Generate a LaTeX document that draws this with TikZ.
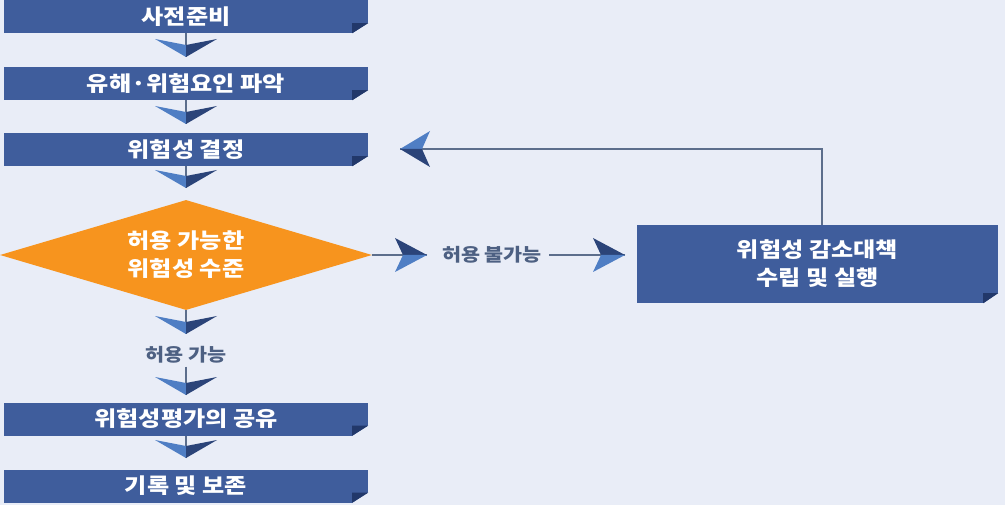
\documentclass[tikz,border=0pt]{standalone}
\usepackage{fontspec}
\setmainfont{Noto Sans CJK KR}[FakeStretch=1.15]
\usetikzlibrary{shapes.geometric}
\definecolor{bgc}{HTML}{E9EDF7}
\definecolor{boxc}{HTML}{3F5D9C}
\definecolor{foldc}{HTML}{22386A}
\definecolor{orangec}{HTML}{F7941E}
\definecolor{chevl}{HTML}{4F7EC4}
\definecolor{chevd}{HTML}{2B4479}
\definecolor{linec}{HTML}{5C6E8C}
\definecolor{labc}{HTML}{4D6082}
\tikzset{
  stepbox/.style={rectangle, fill=boxc, text=white, font=\fontsize{21}{24}\selectfont\bfseries,
    minimum width=364pt, minimum height=33pt, inner sep=0pt, align=center},
  decision/.style={diamond, aspect=3.38, fill=orangec, text=white, inner sep=0pt,
    minimum width=372pt, minimum height=110pt, align=center,
    font=\fontsize{21}{28}\selectfont\bfseries},
  lab/.style={text=labc, font=\fontsize{18}{20}\selectfont\bfseries, inner ysep=3pt, inner xsep=7pt},
  conn/.style={draw=linec, line width=1.2pt},
  chevdown/.pic={
    \fill[chevl] (-31,-18) -- (0,-12) -- (0,0) -- cycle;
    \fill[chevd] (0,-12) -- (31,-18) -- (0,0) -- cycle;
  },
  chevright/.pic={
    \fill[chevd] (-32,-17) -- (-24,0) -- (0,0) -- cycle;
    \fill[chevl] (-24,0) -- (-32,17) -- (0,0) -- cycle;
  },
  chevleft/.pic={
    \fill[chevl] (30,-18) -- (22,0) -- (0,0) -- cycle;
    \fill[chevd] (22,0) -- (30,18) -- (0,0) -- cycle;
  },
}
\begin{document}
\begin{tikzpicture}[x=1pt,y=-1pt]
\fill[bgc] (0,0) rectangle (1005,505);
\useasboundingbox (0,0) rectangle (1005,505);

% nodes
\node[stepbox] (b1) at (186,16.5) {사전준비};
\node[stepbox] (b2) at (186,83.5) {유해·위험요인 파악};
\node[stepbox] (b3) at (186,149.5) {위험성 결정};
\node[decision] (d) at (186,255) {허용 가능한\\위험성 수준};
\node[lab] (l1) at (186,355) {허용 가능};
\node[stepbox] (b4) at (186,419) {위험성평가의 공유};
\node[stepbox] (b5) at (186,486) {기록 및 보존};
\node[lab] (l2) at (492,255) {허용 불가능};
\node[rectangle, fill=boxc, text=white, font=\fontsize{21}{28}\selectfont\bfseries,
  minimum width=361pt, minimum height=78pt, inner sep=0pt, align=center]
  (r) at (817.5,264) {위험성 감소대책\\수립 및 실행};

% folded corners
\foreach \n in {b1,b2,b3,b4,b5}{
  \fill[bgc] (\n.south east) ++(1,1) -- ++(-18,0) -- ++(18,-12) -- cycle;
  \fill[foldc] (\n.south east) ++(-16,0) -- ++(0,-10) -- ++(16,0) -- cycle;
}
\fill[bgc] (r.south east) ++(1,1) -- ++(-17,0) -- ++(17,-12) -- cycle;
\fill[foldc] (r.south east) ++(-15,0) -- ++(0,-10) -- ++(15,0) -- cycle;

% arrow tip coordinates
\coordinate (t1) at (186,57);
\coordinate (t2) at (186,124);
\coordinate (t3) at (186,188);
\coordinate (t4) at (186,334);
\coordinate (t5) at (186,395);
\coordinate (t6) at (186,458);
\coordinate (t7) at (427,255);
\coordinate (t8) at (625,255);
\coordinate (t9) at (400,149);

% connectors
\draw[conn] (b1.south) -- (t1);
\draw[conn] (b2.south) -- (t2);
\draw[conn] (b3.south) -- (t3);
\draw[conn] (d.south) -- (t4);
\draw[conn] (l1.south) -- (t5);
\draw[conn] (b4.south) -- (t6);
\draw[conn] (d.east) -- (t7);
\draw[conn] (l2.east) -- (t8);
\draw[conn] ([xshift=4.5pt]r.north) |- (t9);

% chevrons
\foreach \t in {t1,t2,t3,t4,t5,t6}{ \pic at (\t) {chevdown}; }
\pic at (t7) {chevright};
\pic at (t8) {chevright};
\pic at (t9) {chevleft};
\end{tikzpicture}
\end{document}
